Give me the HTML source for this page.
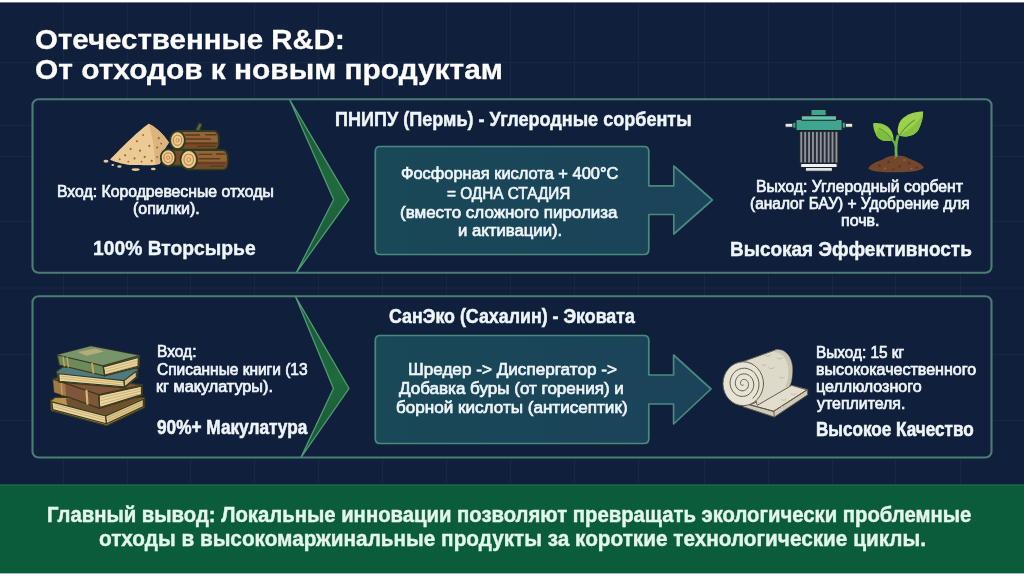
<!DOCTYPE html>
<html lang="ru">
<head>
<meta charset="utf-8">
<title>Отечественные R&amp;D: От отходов к новым продуктам</title>
<style>
html,body{margin:0;padding:0;background:#ffffff;}
body{width:1024px;height:576px;overflow:hidden;font-family:"Liberation Sans",sans-serif;}
#slide{position:relative;width:1024px;height:576px;overflow:hidden;background:#ffffff;}
#slide svg{position:absolute;left:0;top:0;}
#txt{position:absolute;left:0;top:0;width:1024px;height:576px;will-change:transform;}
.t{position:absolute;white-space:nowrap;line-height:normal;color:#eef5f8;transform-origin:0 0;font-weight:400;-webkit-text-stroke:0.7px currentColor;}
.b{font-weight:700;-webkit-text-stroke:0.3px currentColor;}
</style>
</head>
<body>
<div id="slide">
<svg width="1024" height="576" viewBox="0 0 1024 576">
<defs>
<linearGradient id="gTeal" x1="0" y1="0" x2="1" y2="0"><stop offset="0" stop-color="#194857"/><stop offset="1" stop-color="#1b435a"/></linearGradient>
<linearGradient id="gChev" x1="0" y1="0" x2="0" y2="1"><stop offset="0" stop-color="#19553a"/><stop offset="0.5" stop-color="#1f6a3d"/><stop offset="1" stop-color="#19553a"/></linearGradient>
</defs>
<!-- background -->
<rect x="0" y="2.4" width="1024" height="483" fill="#10203c"/>
<!-- grid -->
<g stroke="#182844" stroke-width="1" fill="none">
<path d="M63.5 3V485M127.5 3V485M190.5 3V485M254.5 3V485M318.5 3V485M382.5 3V485M446.5 3V485M510.5 3V485M574.5 3V485M638.5 3V485M704.5 3V485M768.5 3V485M832.5 3V485M895.5 3V485M960.5 3V485"/>
<path d="M0 62.5H1024M0 125.5H1024M0 156.5H1024M0 221.5H1024M0 288H1024M0 354.5H1024M0 420.5H1024"/>
</g>
<!-- footer -->
<rect x="0" y="484.5" width="1024" height="88.9" fill="#0b5c3b"/>
<rect x="0" y="484.5" width="1024" height="1.2" fill="#1f6a4b"/>
<!-- boxes -->
<rect x="32.5" y="99.3" width="959" height="173.5" rx="6" ry="6" fill="#10203c" stroke="#4a7e73" stroke-width="2.1"/>
<rect x="32.5" y="296.3" width="959" height="161.2" rx="6" ry="6" fill="#10203c" stroke="#4a7e73" stroke-width="2.1"/>
<!-- chevrons -->
<path d="M289.6 99.6 L348.9 199.6 L296.5 272.4 L333.6 199.6 Z" fill="url(#gChev)" stroke="#4f9a72" stroke-width="1.3" stroke-linejoin="miter"/>
<path d="M295.5 296.6 L349 388.5 L301 457.4 L333.4 388.5 Z" fill="url(#gChev)" stroke="#4f9a72" stroke-width="1.3" stroke-linejoin="miter"/>
<!-- inner box + arrow 1 -->
<path d="M380 146.5 H644 Q648.8 146.5 648.8 151.5 V185.8 H673.8 V166 L712.3 200 L673.8 234 V214.5 H648.8 V249.5 Q648.8 254.5 644 254.5 H380 Q375.3 254.5 375.3 249.5 V151.5 Q375.3 146.5 380 146.5 Z" fill="url(#gTeal)" stroke="#4a8a7c" stroke-width="1.7" stroke-linejoin="round"/>
<!-- inner box + arrow 2 -->
<path d="M380 335.5 H644 Q648.8 335.5 648.8 340.5 V375 H673.6 V355 L711 389 L673.6 424 V404 H648.8 V438.5 Q648.8 443.5 644 443.5 H380 Q375.3 443.5 375.3 438.5 V340.5 Q375.3 335.5 380 335.5 Z" fill="url(#gTeal)" stroke="#4a8a7c" stroke-width="1.7" stroke-linejoin="round"/>
<!-- ICON 1: sawdust + logs (coords from 6.4x zoom of region origin 90,110) -->
<g transform="translate(90,110) scale(0.15625)" stroke-linejoin="round" stroke-linecap="round">
  <!-- crumbs -->
  <g fill="#e6c690"><ellipse cx="102" cy="328" rx="16" ry="9"/><ellipse cx="146" cy="352" rx="9" ry="7"/><ellipse cx="188" cy="362" rx="14" ry="8"/><ellipse cx="292" cy="381" rx="26" ry="9"/><ellipse cx="405" cy="378" rx="15" ry="8"/></g>
  <!-- pile -->
  <path d="M375 88 C405 98 470 150 505 208 L470 262 L447 346 C400 360 335 350 290 352 C240 355 170 336 128 318 C175 268 300 140 375 88Z" fill="#ecca96"/>
  <path d="M375 88 C405 98 470 150 505 208 L470 262 L447 346 L418 344 C412 250 398 150 375 88Z" fill="#dcb47e"/>
  <g fill="#9a6a30"><circle cx="300" cy="200" r="7"/><circle cx="340" cy="160" r="6"/><circle cx="260" cy="250" r="7"/><circle cx="320" cy="260" r="7"/><circle cx="225" cy="290" r="7"/><circle cx="285" cy="310" r="7"/><circle cx="350" cy="300" r="7"/><circle cx="380" cy="230" r="7"/><circle cx="190" cy="315" r="6"/><circle cx="395" cy="325" r="7"/><circle cx="440" cy="180" r="7"/><circle cx="430" cy="240" r="7"/><circle cx="455" cy="215" r="6"/><circle cx="430" cy="300" r="6"/><circle cx="330" cy="330" r="6"/><circle cx="245" cy="330" r="6"/></g>
  <!-- top log -->
  <path d="M688 130 L704 96" stroke="#2f3d1c" stroke-width="30" fill="none"/>
  <path d="M688 130 L704 96" stroke="#5d6b3a" stroke-width="14" fill="none"/>
  <path d="M560 134 H795 Q824 134 824 192 Q824 251 795 251 H560Z" fill="#93633a" stroke="#2f3d1c" stroke-width="12"/>
  <path d="M585 205 H818 Q822 251 795 246 H585Z" fill="#774b29"/>
  <path d="M610 160 H700 M740 158 H805 M615 186 H770 M610 214 H810 M690 232 H800" stroke="#5e3a1c" stroke-width="9" fill="none"/>
  <ellipse cx="560" cy="194" rx="47" ry="57" fill="#ebcb92" stroke="#2f3d1c" stroke-width="12"/>
  <ellipse cx="560" cy="194" rx="27" ry="33" fill="none" stroke="#c98848" stroke-width="8"/>
  <ellipse cx="560" cy="194" rx="10" ry="12" fill="none" stroke="#c98848" stroke-width="6"/>
  <!-- bottom-left log -->
  <path d="M500 254 H600 V356 H500Z" fill="#774b29" stroke="#2f3d1c" stroke-width="12"/>
  <ellipse cx="500" cy="305" rx="47" ry="54" fill="#ebcb92" stroke="#2f3d1c" stroke-width="12"/>
  <ellipse cx="500" cy="305" rx="27" ry="31" fill="none" stroke="#c98848" stroke-width="8"/>
  <ellipse cx="500" cy="305" rx="10" ry="12" fill="none" stroke="#c98848" stroke-width="6"/>
  <!-- bottom-right log -->
  <path d="M632 257 H850 Q882 257 882 318 Q882 380 850 380 H632Z" fill="#93633a" stroke="#2f3d1c" stroke-width="12"/>
  <path d="M660 330 H876 Q880 380 850 375 H660Z" fill="#774b29"/>
  <path d="M700 284 H780 M810 282 H862 M700 312 H830 M690 340 H865 M770 358 H855" stroke="#5e3a1c" stroke-width="9" fill="none"/>
  <ellipse cx="632" cy="318" rx="53" ry="61" fill="#ebcb92" stroke="#2f3d1c" stroke-width="12"/>
  <ellipse cx="632" cy="318" rx="31" ry="36" fill="none" stroke="#c98848" stroke-width="8"/>
  <ellipse cx="632" cy="318" rx="12" ry="14" fill="none" stroke="#c98848" stroke-width="6"/>
</g>
<!-- ICON 2: filter + plant (6.4x zoom, origin 770,100) -->
<g transform="translate(770,100) scale(0.15625)" stroke-linejoin="round" stroke-linecap="round">
  <rect x="96" y="148" width="80" height="26" rx="6" fill="#e4e9e9" stroke="#1b212c" stroke-width="7"/>
  <rect x="452" y="148" width="78" height="26" rx="6" fill="#e4e9e9" stroke="#1b212c" stroke-width="7"/>
  <rect x="186" y="196" width="254" height="212" fill="#272b35" stroke="#1b212c" stroke-width="7"/>
  <g fill="#8f949b"><rect x="194" y="204" width="12" height="196"/><rect x="219" y="204" width="12" height="196"/><rect x="244" y="204" width="12" height="196"/><rect x="269" y="204" width="12" height="196"/><rect x="294" y="204" width="12" height="196"/><rect x="319" y="204" width="12" height="196"/><rect x="344" y="204" width="12" height="196"/><rect x="369" y="204" width="12" height="196"/><rect x="394" y="204" width="12" height="196"/><rect x="419" y="204" width="12" height="196"/></g>
  <rect x="262" y="60" width="98" height="46" rx="8" fill="#3fa58c" stroke="#1b212c" stroke-width="7"/>
  <rect x="146" y="142" width="26" height="38" rx="5" fill="#3fa58c" stroke="#1b212c" stroke-width="6"/>
  <rect x="456" y="142" width="26" height="38" rx="5" fill="#3fa58c" stroke="#1b212c" stroke-width="6"/>
  <rect x="166" y="124" width="296" height="72" rx="9" fill="#3fa58c" stroke="#1b212c" stroke-width="7"/>
  <rect x="200" y="100" width="226" height="30" rx="7" fill="#66c3aa" stroke="#1b212c" stroke-width="7"/>
  <rect x="196" y="406" width="234" height="26" rx="7" fill="#f0f3f3" stroke="#1b212c" stroke-width="7"/>
  <rect x="226" y="432" width="174" height="24" rx="6" fill="#dfe4e4" stroke="#1b212c" stroke-width="7"/>
  <!-- plant -->
  <path d="M628 438 C640 410 690 392 722 380 C760 350 850 345 892 376 C932 390 975 410 985 434 C960 455 900 463 800 463 C700 463 650 455 628 438Z" fill="#72472d"/>
  <g fill="#5f3821"><circle cx="700" cy="420" r="9"/><circle cx="760" cy="395" r="8"/><circle cx="830" cy="425" r="9"/><circle cx="890" cy="405" r="8"/><circle cx="940" cy="432" r="8"/><circle cx="790" cy="445" r="8"/></g>
  <g fill="#94603c"><circle cx="735" cy="438" r="7"/><circle cx="860" cy="385" r="7"/><circle cx="905" cy="440" r="7"/><circle cx="800" cy="372" r="7"/></g>
  <path d="M808 356 C804 310 806 270 818 232" stroke="#6db347" stroke-width="18" fill="none"/>
  <path d="M805 296 C800 276 794 266 784 256" stroke="#6db347" stroke-width="14" fill="none"/>
  <path d="M660 150 C700 140 760 160 780 205 C792 235 792 250 786 258 C750 270 700 262 680 225 C664 195 660 170 660 150Z" fill="#93cc48"/>
  <path d="M680 225 C700 262 750 270 786 258 C780 240 740 215 690 185 C684 200 680 212 680 225Z" fill="#7fbd3f"/>
  <path d="M700 182 C735 200 765 228 782 254" stroke="#5c9e32" stroke-width="7" fill="none"/>
  <path d="M980 74 C940 70 850 92 826 150 C812 190 816 215 828 228 C870 240 925 232 950 190 C972 150 980 110 980 74Z" fill="#9ed04f"/>
  <path d="M828 228 C870 240 925 232 950 190 C965 160 975 125 979 95 C940 150 880 200 828 228Z" fill="#86c242"/>
  <path d="M925 128 C880 160 848 195 830 226" stroke="#5c9e32" stroke-width="7" fill="none"/>
</g>
<!-- ICON 3: books (6.4x zoom, origin 44,340) -->
<g transform="translate(44,340) scale(0.15625)" stroke="#3b3a1f" stroke-width="8" stroke-linejoin="round" stroke-linecap="round">
  <!-- book 4 bottom (tan) -->
  <path d="M42 388 L72 366 L644 368 L644 432 L402 548 L46 452Z" fill="#b8934f"/>
  <path d="M140 372 L640 370 L396 482 L150 420Z" fill="#6e5230" stroke="none"/>
  <path d="M50 396 L395 486 L400 536 L56 446Z" fill="#ead7a0"/>
  <path d="M395 486 L636 378 L636 426 L400 536Z" fill="#dcc68c"/>
  <path d="M70 414 L385 498 M66 428 L388 514 M408 496 L628 398 M410 514 L628 412" stroke="#b79a5e" stroke-width="4" fill="none"/>
  <!-- book 3 (brown) -->
  <path d="M58 250 L100 236 L628 286 L628 354 L356 438 L66 334Z" fill="#80563a"/>
  <path d="M58 250 L135 276 L142 360 L66 334Z" fill="#a07848" stroke="none"/>
  <path d="M352 354 L624 296 L624 350 L356 432Z" fill="#ead7a0"/>
  <path d="M58 250 L350 350 L628 288 M350 350 L356 438" fill="none"/>
  <path d="M272 326 L278 408" stroke="#d9b571" stroke-width="14" fill="none"/>
  <path d="M110 268 L116 350" stroke="#c79a55" stroke-width="10" fill="none"/>
  <path d="M366 370 L616 314 M366 388 L618 328 M368 408 L600 346" stroke="#b79a5e" stroke-width="4" fill="none"/>
  <!-- book 2 (teal) -->
  <path d="M80 202 L120 172 L602 182 L596 238 L516 306 L96 270Z" fill="#4f7a80"/>
  <path d="M94 216 L512 260 L516 300 L98 264Z" fill="#ead7a0"/>
  <path d="M512 260 L590 200 L592 236 L516 300Z" fill="#d6c08a"/>
  <path d="M110 232 L505 274 M108 246 L508 288" stroke="#b79a5e" stroke-width="4" fill="none"/>
  <!-- book 1 top (green) -->
  <path d="M85 96 L300 40 L612 100 L608 174 L388 230 L98 160Z" fill="#6d8a5b"/>
  <path d="M85 96 L300 40 L612 100 L378 166Z" fill="#78946a" stroke="none"/>
  <path d="M380 172 L604 112 L602 168 L388 224Z" fill="#ead7a0"/>
  <path d="M85 96 L378 166 L612 100 M378 166 L388 230" fill="none"/>
  <path d="M215 76 L328 54 L384 74 L272 100Z" fill="#b5ab7c" stroke="none"/>
  <path d="M122 108 L130 166 M148 114 L156 172" stroke="#c9a55a" stroke-width="9" fill="none"/>
  <path d="M308 152 L316 210" stroke="#c9a55a" stroke-width="12" fill="none"/>
  <path d="M396 186 L596 132 M396 202 L596 148 M398 216 L580 168" stroke="#b79a5e" stroke-width="4" fill="none"/>
</g>
<!-- ICON 4: insulation roll (7.2x zoom, origin 716,344) -->
<g transform="translate(716,344) scale(0.13889)" stroke="#5e5a4b" stroke-width="7" stroke-linejoin="round" stroke-linecap="round">
  <!-- slab -->
  <path d="M200 436 L340 398 L545 298 L660 328 L660 366 L420 526 L196 452Z" fill="#cfcab8"/>
  <path d="M250 436 L340 398 L545 298 L656 330 L416 484Z" fill="#e2decf"/>
  <path d="M416 484 L420 526 M240 438 L416 484 L656 330" fill="none"/>
  <path d="M470 400 C482 408 496 406 506 398 M540 360 C552 368 566 366 576 358 M470 450 C480 456 492 454 500 448" stroke="#bdb8a6" stroke-width="6" fill="none"/>
  <!-- body -->
  <path d="M190 128 L430 42 C520 30 562 130 548 222 C545 268 536 294 524 310 L300 440Z" fill="#dedaca"/>
  <path d="M430 42 C520 30 562 130 548 222 C545 268 536 294 524 310" fill="none"/>
  <path d="M420 60 C500 60 530 150 520 230 C516 270 508 292 498 306 L524 310 C536 294 545 268 548 222 C562 130 520 30 430 42Z" fill="#c9c4b2" stroke="none"/>
  <path d="M350 80 C362 92 380 90 392 80 M440 100 C452 112 470 108 480 96 M380 170 C392 182 410 178 420 168 M460 240 C470 248 484 246 492 238 M330 150 C338 158 350 156 358 148" stroke="#b5b09e" stroke-width="6" fill="none"/>
  <!-- face -->
  <ellipse cx="196" cy="286" rx="146" ry="158" fill="#e6e2d4"/>
  <path d="M196 296 L194 297 L191 298 L189 297 L186 297 L183 295 L180 292 L178 289 L177 285 L176 281 L177 276 L178 271 L180 267 L184 262 L188 259 L193 256 L199 255 L205 255 L211 257 L217 259 L223 264 L227 269 L231 276 L233 284 L234 292 L233 301 L231 309 L227 317 L221 324 L214 330 L206 334 L196 337 L187 337 L177 335 L167 331 L159 325 L151 317 L145 307 L141 296 L139 283 L140 271 L143 258 L148 247 L155 236 L165 227 L176 220 L189 216 L202 215 L216 216 L229 221 L241 228 L252 238 L261 251 L267 265 L271 281 L272 297 L269 314 L263 330 L255 344 L243 357 L230 367 L214 374 L197 377 L180 377 L163 373 L146 365 L132 354 L120 339 L110 322 L104 303 L101 282 L103 262 L108 242 L117 223 L130 206 L146 192 L164 182 L184 176 L205 174 L226 177 L246 185 L265 196 L281 212 L294 232 L304 254 L309 278 L309 302 L305 327 L296 350 L283 371 L266 390" fill="none" stroke-width="7"/>
</g>

</svg>

<div id="txt">
<span class="t b" style="left:34.9px;top:23.66px;font-size:28px;color:#ffffff;transform:scaleX(1.0515)">Отечественные R&amp;D:</span>
<span class="t b" style="left:34.9px;top:54.16px;font-size:28px;color:#ffffff;transform:scaleX(1.0664)">От отходов к новым продуктам</span>
<span class="t" style="left:56.6px;top:183.08px;font-size:15.6px;transform:scaleX(1.0118)">Вход: Кородревесные отходы</span>
<span class="t" style="left:133.1px;top:200.48px;font-size:15.6px;transform:scaleX(1.0225)">(опилки).</span>
<span class="t b" style="left:93.4px;top:236.35px;font-size:20.5px;-webkit-text-stroke-width:0.45px;transform:scaleX(0.9406)">100% Вторсырье</span>
<span class="t b" style="left:334.8px;top:108.35px;font-size:19.5px;-webkit-text-stroke-width:0.48px;transform:scaleX(0.9261)">ПНИПУ (Пермь) - Углеродные сорбенты</span>
<span class="t" style="left:401.2px;top:163.80px;font-size:16.8px;transform:scaleX(0.9784)">Фосфорная кислота + 400°C</span>
<span class="t" style="left:447.3px;top:183.80px;font-size:16.8px;transform:scaleX(0.9137)">= ОДНА СТАДИЯ</span>
<span class="t" style="left:400.2px;top:203.00px;font-size:16.8px;transform:scaleX(1.0113)">(вместо сложного пиролиза</span>
<span class="t" style="left:458.1px;top:221.40px;font-size:16.8px;transform:scaleX(0.9965)">и активации).</span>
<span class="t" style="left:756.2px;top:178.48px;font-size:15.6px;transform:scaleX(1.0090)">Выход: Углеродный сорбент</span>
<span class="t" style="left:749.8px;top:195.18px;font-size:15.6px;transform:scaleX(0.9925)">(аналог БАУ) + Удобрение для</span>
<span class="t" style="left:841.0px;top:212.08px;font-size:15.6px;transform:scaleX(1.0284)">почв.</span>
<span class="t b" style="left:730.2px;top:236.75px;font-size:20.5px;-webkit-text-stroke-width:0.49px;transform:scaleX(0.9253)">Высокая Эффективность</span>
<span class="t" style="left:156.7px;top:343.38px;font-size:15.6px;transform:scaleX(0.9980)">Вход:</span>
<span class="t" style="left:157.4px;top:360.78px;font-size:15.6px;transform:scaleX(0.9923)">Списанные книги (13</span>
<span class="t" style="left:156.4px;top:378.18px;font-size:15.6px;transform:scaleX(1.0394)">кг макулатуры).</span>
<span class="t b" style="left:157.0px;top:417.33px;font-size:19.3px;-webkit-text-stroke-width:0.57px;transform:scaleX(0.8934)">90%+ Макулатура</span>
<span class="t b" style="left:389.1px;top:305.35px;font-size:19.5px;-webkit-text-stroke-width:0.52px;transform:scaleX(0.9133)">СанЭко (Сахалин) - Эковата</span>
<span class="t" style="left:407.5px;top:360.20px;font-size:16.8px;transform:scaleX(1.0208)">Шредер -&gt; Диспергатор -&gt;</span>
<span class="t" style="left:399.4px;top:379.10px;font-size:16.8px;transform:scaleX(1.0149)">Добавка буры (от горения) и</span>
<span class="t" style="left:395.7px;top:398.10px;font-size:16.8px;transform:scaleX(1.0183)">борной кислоты (антисептик)</span>
<span class="t" style="left:815.9px;top:343.88px;font-size:15.6px;transform:scaleX(0.9841)">Выход: 15 кг</span>
<span class="t" style="left:815.8px;top:360.88px;font-size:15.6px;transform:scaleX(1.0279)">высококачественного</span>
<span class="t" style="left:815.8px;top:378.18px;font-size:15.6px;transform:scaleX(1.0291)">целлюлозного</span>
<span class="t" style="left:816.9px;top:395.08px;font-size:15.6px;transform:scaleX(1.0191)">утеплителя.</span>
<span class="t b" style="left:815.7px;top:419.33px;font-size:19.3px;-webkit-text-stroke-width:0.58px;transform:scaleX(0.8881)">Высокое Качество</span>
<span class="t b" style="left:46.7px;top:502.39px;font-size:22px;color:#e2f6e9;-webkit-text-stroke-width:0.49px;transform:scaleX(0.9222)">Главный вывод: Локальные инновации позволяют превращать экологически проблемные</span>
<span class="t b" style="left:98.5px;top:526.09px;font-size:22px;color:#e2f6e9;-webkit-text-stroke-width:0.44px;transform:scaleX(0.9430)">отходы в высокомаржинальные продукты за короткие технологические циклы.</span>
</div>
</div>
</body>
</html>
